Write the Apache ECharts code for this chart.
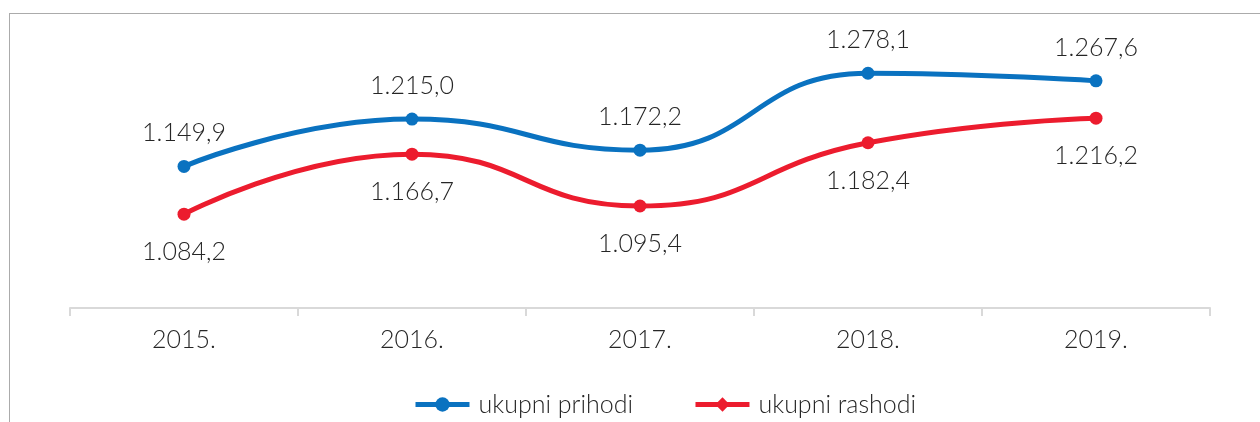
<!DOCTYPE html>
<html>

<head>
  <meta charset="UTF-8">
  <title>Ukupni prihodi i rashodi</title>
  <script src="https://cdn.jsdelivr.net/npm/echarts@6/dist/echarts.min.js"></script>
  <style>
    body {
      margin: 0;
      padding: 0;
      background: #fff;
    }

    #chart {
      width: 1260px;
      height: 422px;
    }

    /* grey frame of the original figure (top and left edges only visible) */
    #frame {
      position: absolute;
      left: 9px;
      top: 13px;
      width: 1300px;
      height: 450px;
      border-top: 1px solid #ababab;
      border-left: 1px solid #ababab;
      pointer-events: none;
    }
  </style>
</head>

<body>
  <div id="chart"></div>
  <div id="frame"></div>

  <script>
    var years = ['2015.', '2016.', '2017.', '2018.', '2019.'];
    var prihodi = [1149.9, 1215.0, 1172.2, 1278.1, 1267.6];
    var rashodi = [1084.2, 1166.7, 1095.4, 1182.4, 1216.2];

    var textColor = '#262626';
    var fontFamily = 'Lato, "Open Sans", sans-serif';
    var fontWeight = 300;

    // 1149.9 -> "1.149,9"
    function fmt(v) {
      var parts = v.toFixed(1).split('.');
      return parts[0].replace(/\B(?=(\d{3})+(?!\d))/g, '.') + ',' + parts[1];
    }

    var chart = echarts.init(document.getElementById('chart'), null, { renderer: 'canvas' });

    chart.setOption({
      animation: false,
      textStyle: { fontFamily: fontFamily, color: textColor },
      grid: { left: 70, right: 50, top: 21, bottom: 114 },
      legend: {
        left: 408,
        top: 387,
        itemWidth: 54,
        itemHeight: 18,
        itemGap: 60,
        lineStyle: { width: 5 },
        textStyle: { fontSize: 25, color: textColor, fontFamily: fontFamily, fontWeight: fontWeight, padding: [0, 0, 0, 4] },
        data: ['ukupni prihodi', 'ukupni rashodi']
      },
      xAxis: {
        type: 'category',
        data: years,
        boundaryGap: true,
        axisLine: { lineStyle: { color: '#d9d9d9', width: 2 } },
        axisTick: { show: true, length: 8, lineStyle: { color: '#d9d9d9', width: 2 } },
        axisLabel: { fontSize: 25, color: textColor, margin: 19, fontFamily: fontFamily, fontWeight: fontWeight }
      },
      yAxis: {
        type: 'value',
        min: 955,
        max: 1350,
        show: false,
        splitLine: { show: false }
      },
      series: [
        {
          name: 'ukupni prihodi',
          type: 'line',
          data: prihodi,
          smooth: 0.5,
          symbol: 'circle',
          symbolSize: 13,
          lineStyle: { color: '#0a72c0', width: 5 },
          itemStyle: { color: '#0a72c0' },
          label: {
            show: true,
            position: 'top',
            distance: 14,
            fontSize: 25,
            color: textColor,
            fontFamily: fontFamily,
            fontWeight: fontWeight,
            formatter: function (p) { return fmt(p.value); }
          }
        },
        {
          name: 'ukupni rashodi',
          type: 'line',
          // legend shows a diamond, the points themselves are circles
          data: rashodi.map(function (v) { return { value: v, symbol: 'circle' }; }),
          smooth: 0.5,
          symbol: 'diamond',
          symbolSize: 13,
          lineStyle: { color: '#ec1c2e', width: 5 },
          itemStyle: { color: '#ec1c2e' },
          label: {
            show: true,
            position: 'bottom',
            distance: 19,
            fontSize: 25,
            color: textColor,
            fontFamily: fontFamily,
            fontWeight: fontWeight,
            formatter: function (p) { return fmt(p.value); }
          }
        }
      ]
    });
  </script>
</body>

</html>
